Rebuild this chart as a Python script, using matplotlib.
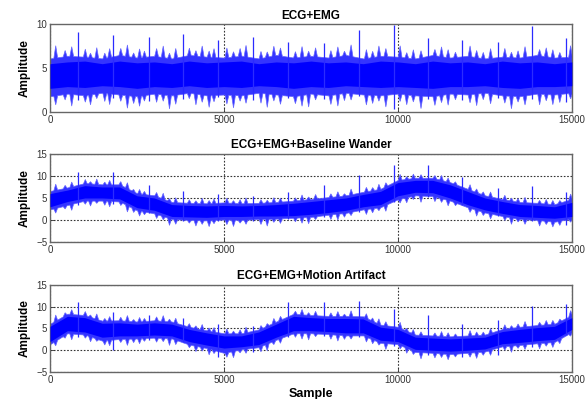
import numpy as np
import matplotlib
matplotlib.use("Agg")
import matplotlib.pyplot as plt

plt.rcParams["font.family"] = ["Liberation Sans", "DejaVu Sans"]

# sample positions of the envelope readings (every 500 samples)
samples = list(range(0, 15001, 500))

titles = ["ECG+EMG", "ECG+EMG+Baseline Wander", "ECG+EMG+Motion Artifact"]

# panel 1: ECG+EMG
p1_out_lo = [1.8, 2.1, 1.9, 2.2, 2.0, 1.8, 2.1, 1.9, 2.2, 1.9, 2.0, 1.9, 2.2, 2.0, 1.8, 2.1,
             1.9, 2.2, 2.0, 1.9, 2.1, 1.9, 1.8, 2.1, 2.0, 2.2, 1.9, 1.8, 2.1, 2.0, 2.2]
p1_core_lo = [2.7, 2.9, 2.8, 3.0, 2.9, 2.7, 2.9, 2.8, 3.0, 2.8, 2.9, 2.8, 3.0, 2.9, 2.7, 2.9,
              2.8, 3.0, 2.9, 2.8, 2.9, 2.8, 2.7, 2.9, 2.9, 3.0, 2.8, 2.7, 2.9, 2.9, 3.0]
p1_core_hi = [5.5, 5.7, 5.8, 5.5, 5.8, 5.6, 5.7, 5.5, 5.8, 5.6, 5.7, 5.8, 5.5, 5.7, 5.6, 5.8,
              5.6, 5.7, 5.5, 5.8, 5.7, 5.5, 5.8, 5.6, 5.7, 5.5, 5.8, 5.6, 5.7, 5.5, 5.7]
p1_out_hi = [6.1, 6.4, 6.3, 6.1, 6.5, 6.2, 6.4, 6.1, 6.5, 6.3, 6.2, 6.4, 6.1, 6.5, 6.2, 6.4,
             6.2, 6.5, 6.1, 6.4, 6.3, 6.1, 6.5, 6.2, 6.4, 6.1, 6.3, 6.2, 6.5, 6.2, 6.3]

# panel 2: + baseline wander
p2_out_lo = [2.4, 3.4, 4.4, 4.4, 4.2, 2.2, 1.5, 0.2, 0.0, -0.1, 0.1, 0.0, 0.2, 0.3, 0.5, 0.7,
             1.2, 1.6, 2.4, 2.9, 4.7, 5.6, 5.4, 4.4, 2.9, 1.7, 0.9, 0.2, 0.0, -0.4, 0.3]
p2_core_lo = [3.0, 4.2, 5.0, 5.0, 4.8, 2.8, 2.2, 0.8, 0.7, 0.6, 0.8, 0.8, 0.9, 0.9, 1.0, 1.3,
              1.7, 2.2, 3.0, 3.5, 5.5, 6.3, 6.2, 5.0, 3.5, 2.3, 1.5, 0.8, 0.6, 0.4, 0.8]
p2_core_hi = [6.0, 6.8, 7.8, 7.5, 7.5, 5.5, 5.0, 3.5, 3.3, 3.2, 3.3, 3.2, 3.3, 3.5, 3.8, 4.2,
              4.6, 5.0, 5.8, 6.5, 8.5, 9.0, 9.0, 8.0, 6.5, 5.0, 4.2, 3.5, 3.3, 3.0, 4.0]
p2_out_hi = [6.6, 7.4, 8.4, 8.1, 8.1, 6.1, 5.6, 4.1, 3.9, 3.8, 4.0, 3.8, 3.9, 4.1, 4.4, 4.8,
             5.2, 5.6, 6.4, 7.1, 9.1, 9.6, 9.6, 8.6, 7.1, 5.6, 4.8, 4.1, 3.9, 3.6, 4.8]

# panel 3: + motion artifact
p3_out_lo = [1.4, 3.9, 3.6, 2.2, 2.6, 2.7, 2.9, 2.7, 1.3, 0.5, -0.6, 0.2, 0.7, 2.4, 3.9, 3.9,
             3.7, 3.4, 3.4, 1.7, 1.4, -0.4, -0.6, -0.9, -0.6, -0.3, 0.9, 1.2, 1.6, 1.9, 4.2]
p3_core_lo = [2.0, 4.5, 4.2, 3.0, 3.3, 3.3, 3.5, 3.3, 2.0, 1.2, 0.5, 0.8, 1.3, 3.0, 4.5, 4.5,
              4.3, 4.0, 4.0, 2.3, 2.0, 0.2, 0.0, -0.2, 0.0, 0.3, 1.5, 1.8, 2.2, 2.5, 4.8]
p3_core_hi = [5.5, 7.8, 7.5, 6.2, 6.3, 6.0, 6.3, 6.0, 4.8, 4.0, 3.3, 3.3, 4.2, 6.0, 7.8, 7.5,
              7.3, 7.3, 7.2, 5.3, 4.8, 3.0, 2.8, 2.6, 2.8, 3.0, 4.3, 4.8, 5.2, 5.5, 7.5]
p3_out_hi = [6.1, 8.4, 8.1, 6.8, 6.9, 6.6, 6.9, 6.6, 5.4, 4.6, 3.9, 3.9, 4.8, 6.6, 8.4, 8.1,
             7.9, 7.9, 7.8, 5.9, 5.4, 3.6, 3.4, 3.2, 3.4, 3.6, 4.9, 5.4, 5.8, 6.1, 8.1]

# QRS spikes: positions, peak values and dip values per panel
spike_pos = [817, 1808, 2837, 3827, 4827, 5836, 6846, 7876, 8886, 9886,
             10857, 11857, 12876, 13857, 14838]
p1_peak = [9.1, 8.8, 8.5, 8.85, 8.2, 8.5, 8.0, 7.9, 9.3, 9.9, 8.4, 8.2, 8.0, 9.8, 8.4]
p1_dip = [1.4, 1.6, 1.3, 1.5, 1.7, 1.4, 1.6, 1.5, 1.8, 0.4, 1.5, 1.4, 1.6, 1.5, 1.2]
p2_peak = [11.0, 10.8, 7.9, 6.6, 5.8, 5.5, 6.4, 7.9, 10.2, 12.5, 12.5, 9.8, 7.2, 7.7, 6.4]
p2_dip = [3.5, 3.6, 1.5, -0.3, -0.2, -0.3, 0.2, 0.6, 1.8, 4.0, 5.2, 3.5, 0.8, -0.3, -1.2]
p3_peak = [11.0, 8.8, 8.0, 7.5, 6.0, 5.5, 11.2, 11.0, 11.4, 9.5, 8.0, 6.1, 6.9, 10.2, 10.7]
p3_dip = [3.0, 0.0, 2.3, 2.0, -1.5, -0.3, 3.0, 3.2, 3.0, 1.0, -1.0, -1.5, -1.0, 0.8, 3.5]

# smaller EMG bursts (shared by all panels): position, rise above the band, drop below it
burst_pos = [150, 420, 610, 1000, 1150, 1330, 1560, 1700, 2020, 2210, 2390, 2560, 2700, 3050,
             3240, 3420, 3600, 3990, 4180, 4360, 4560, 4700, 5070, 5260, 5450, 5620, 6050, 6230,
             6420, 6610, 7040, 7230, 7420, 7620, 8060, 8260, 8450, 8640, 9080, 9260, 9440, 9640,
             10050, 10240, 10430, 10650, 11050, 11240, 11430, 11640, 12060, 12250, 12440, 12650,
             13060, 13250, 13440, 13640, 14060, 14250, 14440, 14640, 14950]
burst_up = [1.4, 0.7, 1.1, 0.9, 0.5, 1.2, 0.6, 1.0, 0.8, 1.3, 0.5, 1.0, 0.7, 0.9, 1.3, 0.6,
            1.1, 0.8, 0.6, 1.2, 0.7, 1.0, 1.1, 0.6, 0.9, 1.3, 0.8, 0.6, 1.1, 0.9, 0.7, 1.2,
            0.6, 1.0, 0.8, 1.1, 0.5, 1.3, 1.0, 0.7, 1.2, 0.9, 1.3, 0.6, 1.0, 0.8, 0.7, 1.1,
            0.9, 0.6, 1.2, 0.8, 0.7, 1.1, 1.0, 0.6, 0.8, 1.2, 0.7, 1.0, 0.9, 0.6, 1.3]
burst_dn = [1.0, 0.6, 1.3, 0.7, 1.1, 0.5, 0.9, 1.2, 0.7, 1.4, 0.8, 1.1, 0.6, 0.9, 0.7, 1.5,
            1.0, 0.6, 1.2, 0.8, 1.3, 0.7, 1.0, 1.4, 0.6, 0.9, 1.1, 1.5, 0.7, 1.0, 0.8, 1.2,
            1.4, 0.6, 1.0, 1.3, 0.8, 0.7, 1.1, 0.9, 0.6, 1.3, 0.8, 1.1, 0.7, 1.4, 1.0, 0.8,
            1.2, 0.6, 0.9, 1.3, 0.7, 1.1, 0.8, 1.4, 0.6, 1.0, 1.2, 0.7, 1.1, 0.9, 0.6]

panels = [
    (p1_out_lo, p1_core_lo, p1_core_hi, p1_out_hi, p1_peak, p1_dip, (0, 10), [0, 5, 10]),
    (p2_out_lo, p2_core_lo, p2_core_hi, p2_out_hi, p2_peak, p2_dip, (-5, 15), [-5, 0, 5, 10, 15]),
    (p3_out_lo, p3_core_lo, p3_core_hi, p3_out_hi, p3_peak, p3_dip, (-5, 15), [-5, 0, 5, 10, 15]),
]
rects = [[0.0855, 0.719, 0.892, 0.2206],
         [0.0855, 0.3935, 0.892, 0.2206],
         [0.0855, 0.0677, 0.892, 0.218]]

# narrow teeth around each burst position
half = 55
tooth_x = np.ravel([[p - half, p, p + half] for p in burst_pos])
tooth_up = np.ravel([[0, u, 0] for u in burst_up])
tooth_dn = np.ravel([[0, d, 0] for d in burst_dn])
edge_x = np.unique(np.concatenate([samples, tooth_x]))
edge_x = edge_x[(edge_x >= 0) & (edge_x <= 15000)]

fig = plt.figure(figsize=(5.85, 3.99), dpi=100)
for i, (olo, clo, chi, ohi, peak, dip, ylim, yt) in enumerate(panels):
    ax = fig.add_axes(rects[i])
    ax.set_axisbelow(True)
    top = np.interp(edge_x, samples, ohi) + np.interp(edge_x, tooth_x, tooth_up)
    bot = np.interp(edge_x, samples, olo) - np.interp(edge_x, tooth_x, tooth_dn)
    ax.fill_between(edge_x, bot, top, color="#3434ff", lw=0.5, edgecolor="#6464ff", zorder=2)
    ax.fill_between(samples, clo, chi, color="#0000ff", lw=0, zorder=3)
    ax.vlines(spike_pos, dip, peak, color="#2b2bff", lw=0.9, zorder=4)
    ax.set_xlim(0, 15000)
    ax.set_ylim(*ylim)
    ax.set_xticks([0, 5000, 10000, 15000])
    ax.set_yticks(yt)
    ax.xaxis.grid(True, ls=(0, (1.5, 1.5)), color="#333333", lw=0.8)
    if i > 0:
        ax.yaxis.grid(True, ls=(0, (1.5, 1.5)), color="#333333", lw=0.8)
    ax.tick_params(direction="in", length=3, labelsize=7, width=0.6, pad=2,
                   colors="#333333")
    for s in ax.spines.values():
        s.set_color("#666666")
        s.set_linewidth(1.0)
    ax.set_title(titles[i], fontsize=8.5, fontweight="bold", pad=4)
    ax.set_ylabel("Amplitude", fontsize=8.5, fontweight="bold", labelpad=4)
    if i == 2:
        ax.set_xlabel("Sample", fontsize=9, fontweight="bold", labelpad=2)

fig.savefig("out.png", dpi=100)
